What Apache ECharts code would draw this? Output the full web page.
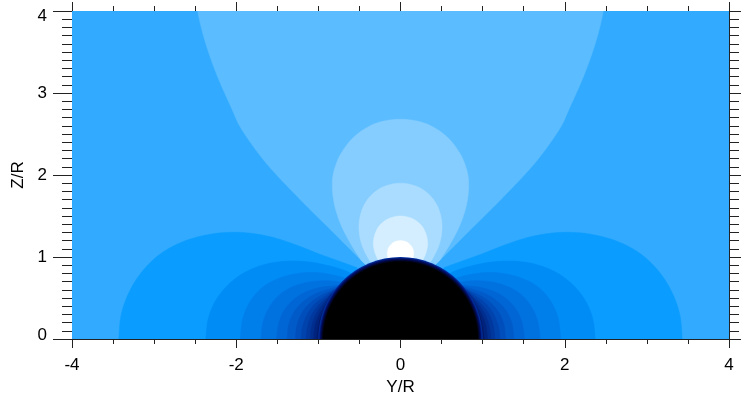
<!DOCTYPE html>
<html><head><meta charset="utf-8">
<script src="https://cdn.jsdelivr.net/npm/echarts@6/dist/echarts.min.js"></script>
<style>html,body{margin:0;padding:0;background:#fff}#c{width:741px;height:396px}</style>
</head><body><div id="c"></div>
<script>
// ---- axis ticks ----
const xTicks = [-4, -2, 0, 2, 4];
const yTicks = [0, 1, 2, 3, 4];

// ---- contour boundaries (right half, x >= 0; chart is mirror-symmetric) ----
const farFieldColor = '#31aaff';

// upper band reaching the top edge: from the sphere up to the top edge
const upperOpen = [[0.42,0.90],[0.52,1.0],[0.85,1.33],[1.26,1.74],[1.64,2.15],[1.93,2.55],[2.06,2.82],[2.24,3.23],[2.38,3.63],[2.47,4.0]];
const upperOpenColor = '#5bbcff';

// closed lobes above the sphere: from the sphere up to the z axis
const lobe1 = [[0.48,0.96],[0.60,1.15],[0.72,1.38],[0.80,1.62],[0.83,1.85],[0.81,2.05],[0.72,2.27],[0.55,2.48],[0.30,2.63],[0,2.68]];
const lobe2 = [[0.38,0.96],[0.46,1.12],[0.50,1.28],[0.50,1.45],[0.45,1.62],[0.35,1.76],[0.20,1.86],[0,1.90]];
const lobe3 = [[0.27,0.96],[0.31,1.05],[0.33,1.16],[0.31,1.28],[0.25,1.39],[0.14,1.47],[0,1.50]];
const lobe4 = [[0.15,0.98],[0.16,1.05],[0.14,1.12],[0.08,1.18],[0,1.20]];
const lobeColors = ['#85ccff', '#aadcff', '#d5eeff', '#ffffff'];

// side lobes along the z = 0 axis: from the axis up to the sphere
const side1 = [[3.43,0],[3.40,0.30],[3.30,0.58],[3.14,0.83],[2.92,1.04],[2.64,1.19],[2.30,1.28],[1.95,1.30],[1.60,1.25],[1.28,1.15],[1.00,1.04],[0.75,0.95],[0.53,0.87]];
const side2 = [[2.37,0],[2.34,0.25],[2.25,0.47],[2.10,0.66],[1.90,0.81],[1.65,0.91],[1.38,0.95],[1.12,0.94],[0.90,0.90],[0.72,0.85],[0.60,0.80]];
const side3 = [[1.95,0],[1.92,0.25],[1.83,0.46],[1.68,0.63],[1.48,0.74],[1.25,0.80],[1.02,0.81],[0.82,0.78],[0.66,0.74]];
const side4 = [[1.70,0],[1.67,0.22],[1.59,0.40],[1.46,0.55],[1.28,0.65],[1.08,0.70],[0.88,0.71],[0.70,0.69]];
const side5 = [[1.51,0],[1.48,0.20],[1.41,0.36],[1.29,0.49],[1.14,0.58],[0.97,0.63],[0.82,0.65],[0.72,0.66]];
const side6 = [[1.38,0],[1.36,0.18],[1.29,0.34],[1.18,0.46],[1.04,0.55],[0.90,0.60],[0.76,0.64]];
const side7 = [[1.28,0],[1.26,0.17],[1.20,0.32],[1.10,0.44],[0.97,0.53],[0.86,0.58],[0.78,0.62]];
const side8 = [[1.21,0],[1.19,0.16],[1.13,0.31],[1.04,0.43],[0.92,0.52],[0.80,0.60]];
const side9 = [[1.15,0],[1.13,0.16],[1.08,0.30],[0.99,0.42],[0.88,0.52],[0.81,0.59]];
const side10 = [[1.10,0],[1.08,0.16],[1.03,0.30],[0.95,0.42],[0.82,0.57]];
const side11 = [[1.06,0],[1.04,0.16],[0.99,0.30],[0.92,0.42],[0.83,0.56]];
const side12 = [[1.02,0],[1.00,0.16],[0.96,0.30],[0.89,0.43],[0.84,0.54]];
const sideColors = ['#0a9cff','#008cf5','#007eea','#0072e0','#0066d5','#005ac8','#004ebb','#0043ad','#00389e','#002e8e','#00247d','#001a6a'];

// sphere (black body) radius
const sphereR = 1.0;

// ---- build band outlines; each is a list of segments: smooth curve pieces or straight closure pieces ----
const mirror = pts => pts.map(p => [-p[0], p[1]]);
const bands = [];
bands.push({color: farFieldColor, segs: [{raw: [[-4,0],[4,0],[4,4],[-4,4]]}]});
bands.push({color: upperOpenColor, segs: [
  {smooth: [[-2.50,4.3], ...mirror(upperOpen).reverse()]},
  {raw: [[0,0.3]]},
  {smooth: [...upperOpen, [2.50,4.3]]}]});
[lobe1, lobe2, lobe3, lobe4].forEach((l, i) => {
  bands.push({color: lobeColors[i], segs: [
    {smooth: [...mirror(l), ...l.slice(0, -1).reverse()]},
    {raw: [[0,0.5]]}]});
});
[side1, side2, side3, side4, side5, side6, side7, side8, side9, side10, side11, side12].forEach((s, i) => {
  const ext = [[s[0][0] + 0.01, -0.2], ...s];
  bands.push({color: sideColors[i], segs: [{smooth: ext}, {raw: [[0,0],[0,-0.2]]}]});
  bands.push({color: sideColors[i], segs: [{smooth: mirror(ext)}, {raw: [[0,0],[0,-0.2]]}]});
});

// Catmull-Rom densification in pixel space (drawing only)
function densify(pix) {
  const out = [];
  const n = pix.length;
  for (let i = 0; i < n - 1; i++) {
    const p0 = pix[Math.max(i - 1, 0)], p1 = pix[i], p2 = pix[i + 1], p3 = pix[Math.min(i + 2, n - 1)];
    const steps = 12;
    for (let k = 0; k < steps; k++) {
      const t = k / steps, t2 = t * t, t3 = t2 * t;
      out.push([0, 1].map(d => 0.5 * ((2 * p1[d]) + (-p0[d] + p2[d]) * t +
        (2 * p0[d] - 5 * p1[d] + 4 * p2[d] - p3[d]) * t2 + (-p0[d] + 3 * p1[d] - 3 * p2[d] + p3[d]) * t3)));
    }
  }
  out.push(pix[n - 1]);
  return out;
}

const chart = echarts.init(document.getElementById('c'), null, {renderer: 'canvas'});
const font = 'Liberation Sans, Arial, Helvetica, sans-serif';
const axisCol = '#222';
const fs = 17;

const yLabelFmt = v => v === 4 ? '{t|4}' : (v === 0 ? '{b|0}' : String(v));

chart.setOption({
  animation: false,
  backgroundColor: '#fff',
  grid: {left: 72, right: 12, top: 11, bottom: 57, containLabel: false, outerBoundsMode: 'none'},
  xAxis: [
    {type: 'value', min: -4, max: 4, interval: 2, position: 'bottom',
     name: 'Y/R', nameLocation: 'middle', nameGap: 36,
     nameTextStyle: {fontSize: fs, color: '#000', fontFamily: font},
     axisLine: {onZero: false, lineStyle: {color: axisCol, width: 1}},
     axisTick: {length: 9, lineStyle: {color: axisCol}},
     minorTick: {show: true, splitNumber: 4, length: 5, lineStyle: {color: axisCol}},
     splitLine: {show: false}, minorSplitLine: {show: false},
     axisLabel: {fontSize: fs, color: '#000', fontFamily: font, margin: 18,
                 formatter: v => xTicks.includes(v) ? String(v) : ''}},
    {type: 'value', min: -4, max: 4, interval: 2, position: 'top',
     axisLine: {onZero: false, lineStyle: {color: axisCol, width: 1}},
     axisTick: {length: 9, lineStyle: {color: axisCol}},
     minorTick: {show: true, splitNumber: 4, length: 5, lineStyle: {color: axisCol}},
     splitLine: {show: false}, axisLabel: {show: false}}
  ],
  yAxis: [
    {type: 'value', min: 0, max: 4, interval: 1, position: 'left',
     name: 'Z/R', nameLocation: 'middle', nameGap: 44,
     nameTextStyle: {fontSize: fs, color: '#000', fontFamily: font},
     axisLine: {onZero: false, lineStyle: {color: axisCol, width: 1}},
     axisTick: {length: 19, lineStyle: {color: axisCol}},
     minorTick: {show: true, splitNumber: 10, length: 10, lineStyle: {color: axisCol}},
     splitLine: {show: false},
     axisLabel: {fontSize: fs, color: '#000', fontFamily: font, margin: 25,
                 formatter: v => yTicks.includes(v) ? yLabelFmt(v) : '',
                 rich: {t: {fontSize: fs, fontFamily: font, color: '#000', padding: [11,0,0,0]},
                        b: {fontSize: fs, fontFamily: font, color: '#000', padding: [0,0,7,0]}}}},
    {type: 'value', min: 0, max: 4, interval: 1, position: 'right',
     axisLine: {onZero: false, lineStyle: {color: axisCol, width: 1}},
     axisTick: {length: 19, lineStyle: {color: axisCol}},
     minorTick: {show: true, splitNumber: 10, length: 10, lineStyle: {color: axisCol}},
     splitLine: {show: false}, axisLabel: {show: false}}
  ],
  series: [
    {type: 'custom', xAxisIndex: 0, yAxisIndex: 0, clip: true, silent: true,
     data: bands.map((b, i) => [i]),
     renderItem: (params, api) => {
       const b = bands[params.dataIndex];
       const pts = [];
       b.segs.forEach(sg => {
         if (sg.raw) sg.raw.forEach(q => pts.push(api.coord(q)));
         else densify(sg.smooth.map(q => api.coord(q))).forEach(q => pts.push(q));
       });
       return {type: 'polygon', shape: {points: pts},
               style: {fill: b.color, stroke: b.color, lineWidth: 0.5}};
     }},
    {type: 'custom', xAxisIndex: 0, yAxisIndex: 0, clip: true, silent: true,
     data: [[0, 0, sphereR]],
     renderItem: (params, api) => {
       const c = api.coord([api.value(0), api.value(1)]);
       const r = api.size([api.value(2), 0])[0];
       return {type: 'sector',
               shape: {cx: c[0], cy: c[1], r0: 0, r: r, startAngle: Math.PI, endAngle: 2 * Math.PI, clockwise: true},
               style: {fill: new echarts.graphic.RadialGradient(c[0], c[1], r, [
                 {offset: 0, color: '#000'}, {offset: 0.94, color: '#000'},
                 {offset: 0.975, color: '#000c60'}, {offset: 1, color: '#0038b0'}], true)}};
     }}
  ]
});
</script></body></html>
